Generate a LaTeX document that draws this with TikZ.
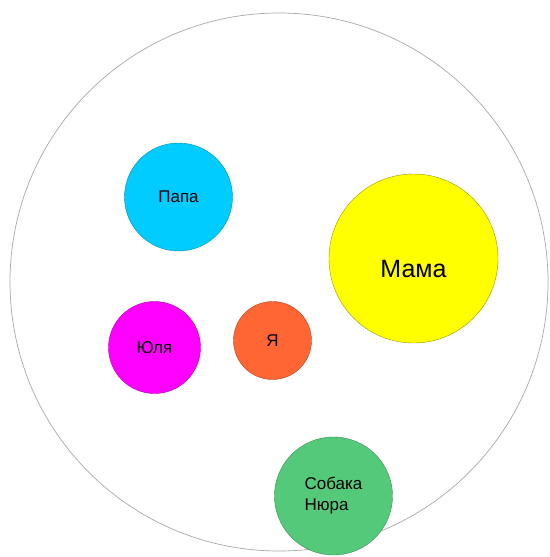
\documentclass[tikz,border=0pt]{standalone}
\usepackage{fontspec}
\setmainfont{Liberation Sans}
\usepackage{xcolor}
\usepackage{tikz}
\definecolor{fam_papa}{HTML}{00CCFF}
\definecolor{fam_mama}{HTML}{FFFF00}
\definecolor{fam_yulya}{HTML}{FF00FF}
\definecolor{fam_ya}{HTML}{FF6633}
\definecolor{fam_dog}{HTML}{55C97A}
\definecolor{outer}{HTML}{A8A8A8}
\begin{document}
\begin{tikzpicture}[x={(1pt,0)}, y={(0,-1pt)}]
            \tikzstyle{member} = [circle, inner sep = 0pt, line width = 0.4pt, align = left, font = \fontsize{17}{21}\selectfont];
            \useasboundingbox (0,0) rectangle (549,557);
            \draw[outer, line width = 0.7pt] (279,282) circle (269pt);
            \foreach \n/\x/\y/\d/\c/\l in {papa/178.5/197/108/fam_papa/{Папа},
                yulya/154.5/347.5/92/fam_yulya/{Юля},
                ya/272.5/340.5/78/fam_ya/{Я},
                dog/333.5/496/118/fam_dog/{Собака\\Нюра}}
            {
            \node[member, fill = \c, draw = \c!70!black, minimum size = \d pt] (\n) at (\x,\y) {\l};}
            \node[member, fill = fam_mama, draw = fam_mama!60!black, minimum size = 169pt,
                label = {[yshift = -11pt, font = \fontsize{25}{30}\selectfont]center:Мама}] (mama) at (413.5,258.5) {};
        \end{tikzpicture}
\end{document}
